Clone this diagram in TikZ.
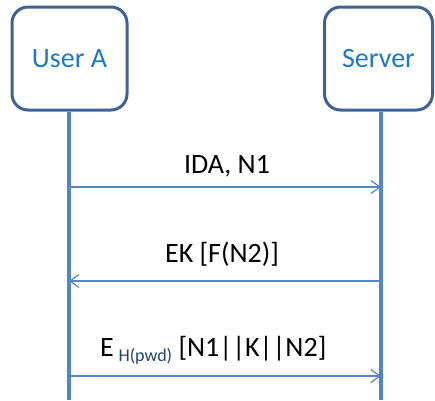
\documentclass[tikz,border=0pt]{standalone}
\usepackage{fontspec}
\setmainfont{Carlito}
\usetikzlibrary{arrows.meta}
\definecolor{boxline}{HTML}{3F6291}
\definecolor{lifeline}{HTML}{5586C4}
\definecolor{actortext}{HTML}{1E78C8}
\definecolor{subtext}{HTML}{24406E}
\tikzset{
  actor/.style={draw=boxline, line width=3pt, rounded corners=16pt, fill=white,
    minimum width=#1, minimum height=103pt, inner sep=0pt,
    text=actortext, font=\fontsize{28}{28}\selectfont},
  life/.style={draw=lifeline, line width=3.5pt},
  msg/.style={draw=lifeline, line width=1.2pt,
    -{Straight Barb[length=9pt,width=13pt,line width=1.2pt]}},
  msglabel/.style={inner sep=0pt, font=\fontsize{28}{28}\selectfont, text=black}
}
\begin{document}
\begin{tikzpicture}[x=1pt,y=-1pt]
  \useasboundingbox (0,0) rectangle (435,400);
  % actors
  \node[actor=115pt] (usera) at (69.5,58.5) {User A};
  \node[actor=108pt] (server) at (378.5,58.5) {Server};
  % lifeline ends
  \coordinate (aend) at (69,400);
  \coordinate (send) at (381,400);
  \draw[life] (usera.south -| aend) -- (aend);
  \draw[life] (server.south -| send) -- (send);
  % message anchor points on the lifelines
  \coordinate (a1) at (69,187);  \coordinate (s1) at (381,187);
  \coordinate (a2) at (69,281);  \coordinate (s2) at (381,281);
  \coordinate (a3) at (69,376);  \coordinate (s3) at (381,376);
  % messages
  \draw[msg] (a1) -- (s1);
  \draw[msg] (s2) -- (a2);
  \draw[msg] (a3) -- (s3);
  % message labels
  \node[msglabel] (m1) at (227,166) {IDA, N1};
  \node[msglabel] (m2) at (222,254) {EK [F(N2)]};
  \node[msglabel, anchor=base west] (m3) at (100,356)
    {E\,\raisebox{-5pt}{\fontsize{18}{18}\selectfont\color{subtext}H(pwd)} [N1||K||N2]};
\end{tikzpicture}
\end{document}
